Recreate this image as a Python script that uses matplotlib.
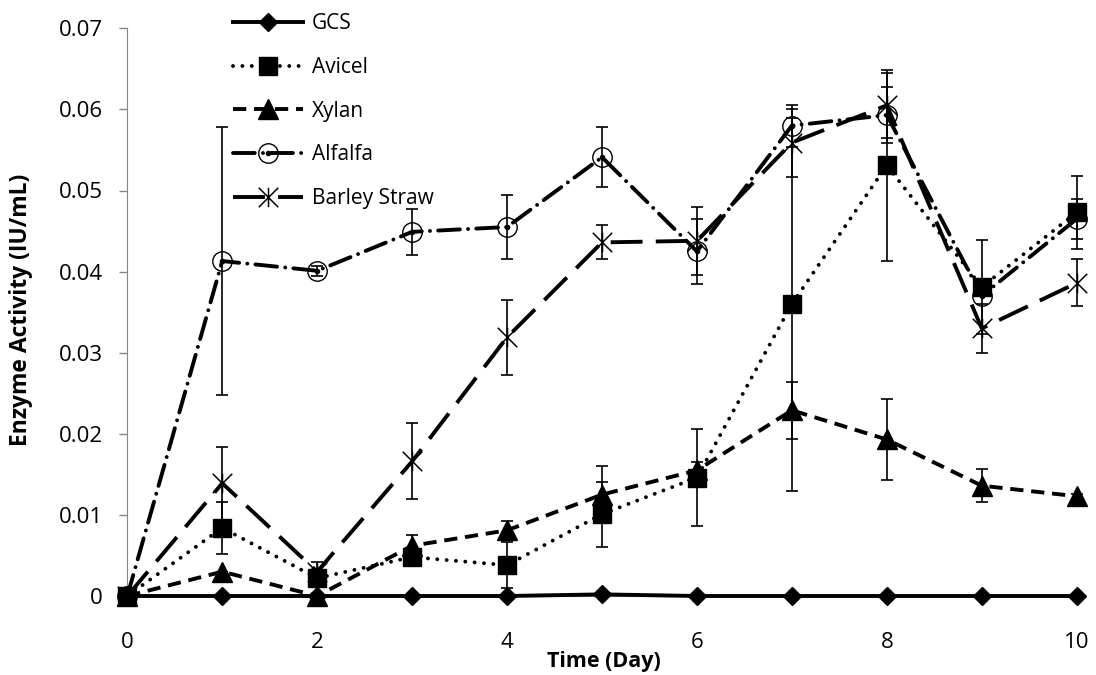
import matplotlib
matplotlib.use("Agg")
import matplotlib.pyplot as plt
from matplotlib.lines import Line2D
from matplotlib.path import Path

plt.rcParams['font.family'] = ['Open Sans', 'DejaVu Sans']

# sampling days
days = [0, 1, 2, 3, 4, 5, 6, 7, 8, 9, 10]

# enzyme activity (IU/mL) and standard deviations per substrate
gcs = [0, 0, 0, 0, 0, 0.0002, 0, 0, 0, 0, 0]
gcs_err = [0, 0, 0, 0, 0, 0, 0, 0, 0, 0, 0]

avicel = [0, 0.0084, 0.0022, 0.0048, 0.0038, 0.0101, 0.0146, 0.0360, 0.0531, 0.0381, 0.0473]
avicel_err = [0, 0.0032, 0.0005, 0.0005, 0.0028, 0.0040, 0.0060, 0.0230, 0.0118, 0.0058, 0.0045]

xylan = [0, 0.0030, 0.0, 0.0062, 0.0081, 0.0125, 0.0155, 0.0229, 0.0193, 0.0136, 0.0123]
xylan_err = [0, 0, 0.0002, 0.0013, 0.0012, 0.0035, 0.0010, 0.0035, 0.0050, 0.0020, 0.0003]

alfalfa = [0, 0.0413, 0.0401, 0.0449, 0.0455, 0.0541, 0.0425, 0.0580, 0.0593, 0.0370, 0.0465]
alfalfa_err = [0, 0.0165, 0.0006, 0.0028, 0.0040, 0.0037, 0.0040, 0.0026, 0.0035, 0.0, 0.0025]

barley = [0, 0.0139, 0.0030, 0.0166, 0.0319, 0.0436, 0.0438, 0.0559, 0.0605, 0.0330, 0.0386]
barley_err = [0, 0.0045, 0.0012, 0.0047, 0.0046, 0.0021, 0.0042, 0.0042, 0.0040, 0.0030, 0.0029]

labels = ['GCS', 'Avicel', 'Xylan', 'Alfalfa', 'Barley Straw']

# star marker: an X with a vertical bar through it
star = Path([(-1, -1), (1, 1), (-1, 1), (1, -1), (0, -1), (0, 1)],
            [Path.MOVETO, Path.LINETO, Path.MOVETO, Path.LINETO, Path.MOVETO, Path.LINETO])

W, H = 1096, 675
fig = plt.figure(figsize=(W / 100, H / 100), dpi=100)
ax = fig.add_axes([127.3 / W, 1 - 596 / H, 949.4 / W, 567.7 / H])

lw = 2.8
styles = [
    dict(ls='-', marker='D', ms=9.5),
    dict(ls=(0, (0.01, 2.4)), marker='s', ms=13, dash_capstyle='round'),
    dict(ls=(0, (3.4, 2.0)), marker='^', ms=14),
    dict(ls=(0, (5.6, 2.1, 0.01, 2.1)), marker='o', ms=14, mfc='none', mew=1.0,
         dash_capstyle='round'),
    dict(ls=(0, (8.2, 3.4)), marker=star, ms=14, mfc='none', mew=1.1),
]
values = [gcs, avicel, xylan, alfalfa, barley]
errors = [gcs_err, avicel_err, xylan_err, alfalfa_err, barley_err]

# error bars first, thin and capped
for vals, err in zip(values, errors):
    ax.errorbar(days, vals, yerr=err, fmt='none', ecolor='black', elinewidth=1.2,
                capsize=4.5, capthick=1.2, clip_on=False, zorder=2)

for vals, style in zip(values, styles):
    ax.plot(days, vals, color='black', lw=lw, mec='black', clip_on=False, zorder=3, **style)

# dot in the middle of the alfalfa circles
ax.plot(days, alfalfa, ls='none', marker='o', ms=3, color='black', clip_on=False, zorder=4)

ax.set_xlim(0, 10)
ax.set_ylim(0, 0.07)
ax.set_xticks([0, 2, 4, 6, 8, 10])
ax.set_yticks([0, 0.01, 0.02, 0.03, 0.04, 0.05, 0.06, 0.07])
ax.set_yticklabels(['0', '0.01', '0.02', '0.03', '0.04', '0.05', '0.06', '0.07'])

for side in ['top', 'right']:
    ax.spines[side].set_visible(False)
ax.spines['left'].set_color('#868686')
ax.spines['bottom'].set_color('#868686')
ax.tick_params(axis='y', direction='out', length=5.8, width=1, color='#868686',
               labelsize=16, pad=12)
ax.tick_params(axis='x', length=0, labelsize=16, pad=26)

ax.set_xlabel('Time (Day)', fontsize=15.5, fontweight='bold')
ax.set_ylabel('Enzyme Activity (IU/mL)', fontsize=16.5, fontweight='bold')
ax.xaxis.set_label_coords(0.5016, -0.0969)
ax.yaxis.set_label_coords(-0.0993, 0.504)

# legend drawn by hand in pixel positions
row_y = [21.7, 65.5, 109.2, 153.0, 196.7]
for y, style, label in zip(row_y, styles, labels):
    fy = 1 - y / H
    fig.add_artist(Line2D([233 / W, 268 / W, 303 / W], [fy, fy, fy], transform=fig.transFigure,
                          color='black', lw=lw, mec='black', markevery=[1], **style))
    if label == 'Alfalfa':
        fig.add_artist(Line2D([268 / W], [fy], transform=fig.transFigure, ls='none',
                              marker='o', ms=3, color='black'))
    fig.text(312 / W, 1 - (y + 7.4) / H, label, fontsize=15, va='baseline', ha='left')

fig.savefig('out.png', dpi=100)
